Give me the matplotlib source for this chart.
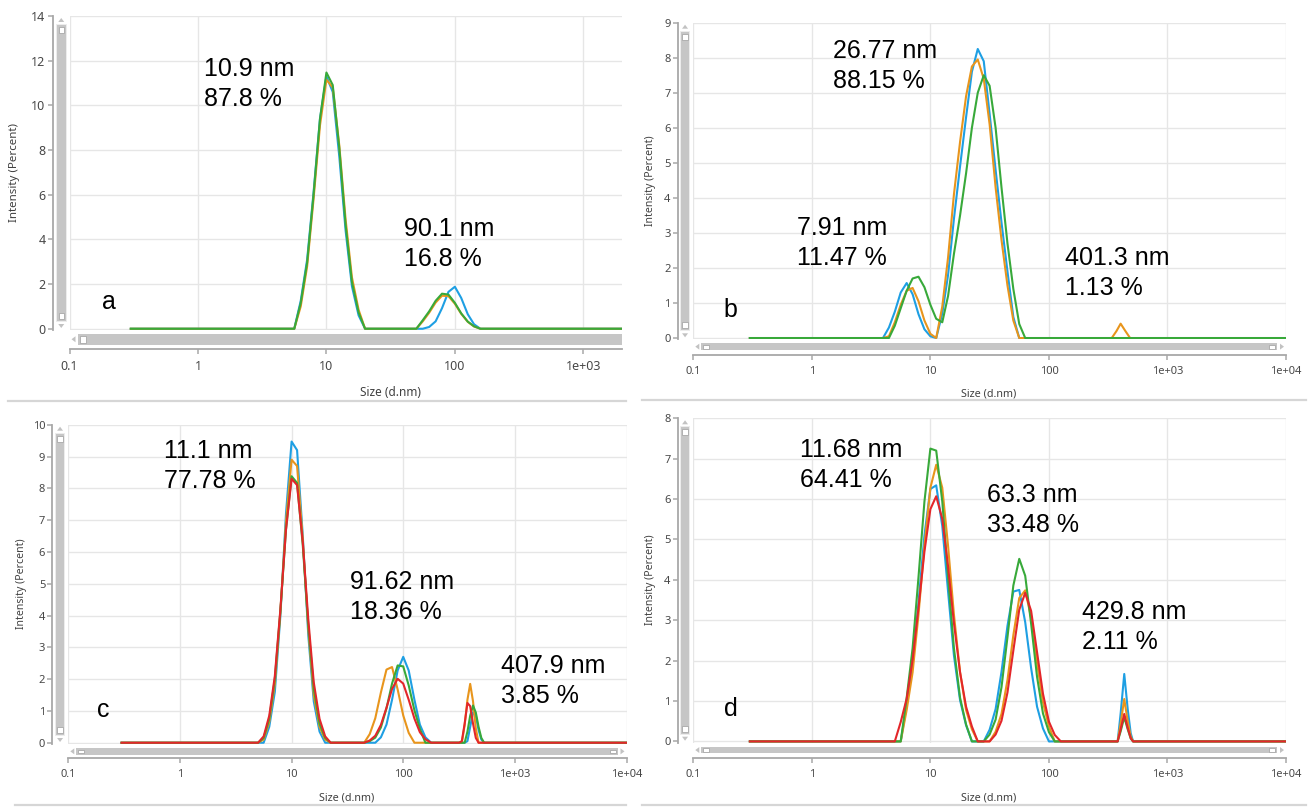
import matplotlib
matplotlib.use("Agg")
import matplotlib.pyplot as plt
from matplotlib.patches import Rectangle, Polygon
from matplotlib.transforms import offset_copy

plt.rcParams['font.family'] = ['Noto Sans', 'DejaVu Sans']

# ---- data (size in d.nm, intensity in %) ----
a_size = [0.3,
          5.62, 6.31, 7.08, 7.94, 8.91, 10.0, 11.2, 12.6, 14.1, 15.8, 17.8, 20.0,
          44.7, 50.1, 56.2, 63.1, 70.8, 79.4, 89.1, 100, 112, 126, 141, 158,
          10000]
a_blue = [0,
          0, 1.25, 3.1, 6.1, 9.4, 11.3, 10.6, 7.7, 4.4, 1.9, 0.6, 0,
          0, 0, 0, 0.08, 0.33, 0.92, 1.65, 1.88, 1.38, 0.65, 0.2, 0,
          0]
a_orange = [0,
            0, 1.0, 2.8, 5.8, 9.1, 11.15, 10.8, 8.2, 4.9, 2.3, 0.85, 0,
            0, 0, 0.33, 0.72, 1.17, 1.48, 1.46, 1.12, 0.67, 0.31, 0.1, 0,
            0]
a_green = [0,
           0, 1.15, 2.97, 5.99, 9.39, 11.47, 10.91, 8.08, 4.66, 2.09, 0.73, 0,
           0, 0, 0.38, 0.78, 1.25, 1.57, 1.53, 1.16, 0.69, 0.32, 0.11, 0,
           0]

b_size = [0.3,
          3.55, 3.98, 4.47, 5.01, 5.62, 6.31, 7.08, 7.94, 8.91, 10.0,
          11.2, 12.6, 14.1, 15.8, 17.8, 20.0, 22.4, 25.1, 28.2, 31.6, 35.5, 39.8, 44.7, 50.1, 56.2, 63.1, 70.8,
          338.8, 371.5, 402.7, 441.6, 484.2,
          10000]
b_blue = [0,
          0, 0, 0.3, 0.75, 1.3, 1.57, 1.25, 0.68, 0.25, 0.05,
          0, 0.7, 1.8, 3.4, 4.9, 6.3, 7.6, 8.25, 7.9, 6.4, 4.8, 3.3, 1.9, 0.6, 0, 0, 0,
          0, 0, 0, 0, 0,
          0]
b_orange = [0,
            0, 0, 0.05, 0.45, 0.95, 1.35, 1.43, 1.05, 0.5, 0.12,
            0, 0.9, 2.3, 4.1, 5.6, 6.9, 7.75, 7.95, 7.4, 6.1, 4.3, 2.8, 1.5, 0.5, 0, 0, 0,
            0, 0.2, 0.41, 0.2, 0,
            0]
b_green = [0,
           0, 0, 0, 0.35, 0.85, 1.35, 1.7, 1.75, 1.45, 0.95,
           0.55, 0.45, 1.2, 2.4, 3.5, 4.7, 6.0, 7.0, 7.5, 7.2, 6.0, 4.3, 2.7, 1.4, 0.4, 0, 0,
           0, 0, 0, 0, 0,
           0]

c_size = [0.3,
          5.01, 5.62, 6.31, 7.08, 7.94, 8.91, 10.0, 11.2, 12.6, 14.1, 15.8, 17.8, 20.0, 22.4, 25.1,
          39.8, 44.7, 50.1, 56.2, 63.1, 70.8, 79.4, 89.1, 100, 112, 126, 141, 158, 178,
          316, 335, 355, 376, 398, 422, 447, 473, 501, 531, 562,
          10000]
c_blue = [0,
          0, 0, 0.5, 1.6, 4.0, 7.2, 9.47, 9.2, 6.5, 3.4, 1.3, 0.35, 0, 0, 0,
          0, 0, 0, 0, 0.17, 0.57, 1.35, 2.27, 2.7, 2.27, 1.35, 0.57, 0.17, 0,
          0, 0, 0, 0.05, 0.5, 0.95, 0.85, 0.4, 0.1, 0, 0,
          0]
c_orange = [0,
            0, 0.1, 0.65, 1.85, 4.1, 6.95, 8.9, 8.7, 6.4, 3.6, 1.5, 0.5, 0.1, 0, 0,
            0, 0, 0.27, 0.77, 1.58, 2.3, 2.38, 1.68, 0.86, 0.31, 0, 0, 0, 0,
            0, 0, 0.55, 1.35, 1.85, 1.3, 0.45, 0, 0, 0, 0,
            0]
c_green = [0,
           0, 0.15, 0.75, 2.0, 4.15, 6.7, 8.38, 8.17, 6.2, 3.7, 1.7, 0.6, 0.15, 0, 0,
           0, 0, 0.05, 0.16, 0.48, 1.08, 1.86, 2.43, 2.4, 1.8, 1.02, 0.44, 0, 0,
           0, 0, 0, 0.35, 0.85, 1.17, 0.95, 0.5, 0.15, 0, 0,
           0]
c_red = [0,
         0, 0.2, 0.85, 2.1, 4.2, 6.7, 8.3, 8.1, 6.3, 3.9, 1.9, 0.75, 0.2, 0, 0,
         0, 0, 0.07, 0.22, 0.56, 1.1, 1.69, 2.01, 1.86, 1.35, 0.76, 0.33, 0.11, 0,
         0, 0.05, 0.6, 1.25, 1.15, 0.6, 0.15, 0, 0, 0, 0,
         0]

d_size = [0.3,
          5.01, 5.62, 6.31, 7.08, 7.94, 8.91, 10.0, 11.2, 12.6, 14.1, 15.8, 17.8, 20.0, 22.4, 25.1,
          28.2, 31.6, 35.5, 39.8, 44.7, 50.1, 56.2, 63.1, 70.8, 79.4, 89.1, 100, 112, 126,
          355, 380, 403, 432, 462, 490, 513, 550,
          10000]
d_blue = [0,
          0, 0, 0.89, 1.92, 3.44, 5.1, 6.25, 6.34, 5.33, 3.71, 2.13, 1.02, 0.4, 0, 0,
          0, 0.29, 0.8, 1.72, 2.86, 3.71, 3.75, 2.95, 1.81, 0.86, 0.32, 0, 0, 0,
          0, 0, 0.7, 1.67, 0.8, 0.2, 0, 0,
          0]
d_orange = [0,
            0, 0, 0.78, 1.71, 3.14, 4.84, 6.28, 6.85, 6.28, 4.84, 3.14, 1.71, 0.78, 0.3, 0,
            0, 0, 0.24, 0.68, 1.52, 2.63, 3.55, 3.74, 3.06, 1.95, 0.97, 0.37, 0, 0,
            0, 0, 0.45, 1.05, 0.5, 0.12, 0, 0,
            0]
d_green = [0,
           0, 0, 1.08, 2.31, 4.07, 5.94, 7.25, 7.2, 5.94, 4.07, 2.31, 1.08, 0.42, 0, 0,
           0, 0.17, 0.54, 1.34, 2.58, 3.86, 4.52, 4.1, 2.91, 1.6, 0.69, 0.23, 0, 0,
           0, 0, 0.25, 0.6, 0.3, 0.07, 0, 0,
           0]
d_red = [0,
         0, 0.48, 1.06, 2.02, 3.31, 4.7, 5.75, 6.07, 5.51, 4.33, 2.93, 1.71, 0.86, 0.37, 0,
         0, 0, 0.17, 0.51, 1.21, 2.25, 3.26, 3.68, 3.23, 2.21, 1.18, 0.49, 0.16, 0,
         0, 0, 0.3, 0.68, 0.33, 0.08, 0, 0,
         0]

x_ticks = [0.1, 1, 10, 100, 1000, 10000]
x_labels = ['0.1', '1', '10', '100', '1e+03', '1e+04']

# peak annotations: (line 1, line 2, x in nm, baseline of line 1 in %)
a_notes = [('10.9 nm', '87.8 %', 1.107, 11.32), ('90.1 nm', '16.8 %', 40.1, 4.16)]
b_notes = [('26.77 nm', '88.15 %', 1.52, 7.99), ('7.91 nm', '11.47 %', 0.75, 2.94),
           ('401.3 nm', '1.13 %', 137, 2.09)]
c_notes = [('11.1 nm', '77.78 %', 0.714, 8.95), ('91.62 nm', '18.36 %', 33.5, 4.82),
           ('407.9 nm', '3.85 %', 745, 2.19)]
d_notes = [('11.68 nm', '64.41 %', 0.795, 7.03), ('63.3 nm', '33.48 %', 30, 5.92),
           ('429.8 nm', '2.11 %', 190.6, 3.04)]

BLUE, ORANGE, GREEN, RED = '#1E9FE3', '#E8951C', '#38A93A', '#E3262A'

W, H = 1314, 808
fig = plt.figure(figsize=(W / 100, H / 100), dpi=100)


def box(x0, y0, x1, y1, **kw):
    fig.add_artist(Rectangle((x0 / W, 1 - y1 / H), (x1 - x0) / W, (y1 - y0) / H,
                             transform=fig.transFigure, **kw))


def tri(pts, color='#c2c2c2'):
    fig.add_artist(Polygon([(x / W, 1 - y / H) for x, y in pts], closed=True,
                           transform=fig.transFigure, fc=color, ec='none'))


def vbar(x0, x1, y0, y1):
    box(x0 - 1, y0 + 8, x1 + 1, y1 - 8, fc='#ececec', ec='none')
    box(x0, y0 + 9, x1, y1 - 9, fc='#c6c6c6', ec='none')
    box(x0 + 1.5, y0 + 11, x1 - 1.5, y0 + 17, fc='white', ec='#a8a8a8', lw=0.6)
    box(x0 + 1.5, y1 - 17, x1 - 1.5, y1 - 11, fc='white', ec='#a8a8a8', lw=0.6)
    cx = (x0 + x1) / 2
    tri([(cx - 3, y0 + 6), (cx + 3, y0 + 6), (cx, y0 + 2)])
    tri([(cx - 3, y1 - 6), (cx + 3, y1 - 6), (cx, y1 - 2)])


def hbar(x0, x1, y0, y1, right_end=True):
    box(x0 + 8, y0, x1 - 9 if right_end else x1, y1, fc='#c6c6c6', ec='none')
    box(x0 + 10, y0 + 1.5, x0 + 16, y1 - 1.5, fc='white', ec='#a8a8a8', lw=0.6)
    cy = (y0 + y1) / 2
    tri([(x0 + 6, cy - 3), (x0 + 6, cy + 3), (x0 + 2, cy)])
    if right_end:
        box(x1 - 17, y0 + 1.5, x1 - 11, y1 - 1.5, fc='white', ec='#a8a8a8', lw=0.6)
        tri([(x1 - 6, cy - 3), (x1 - 6, cy + 3), (x1 - 2, cy)])


def make_panel(geo, size, curves, xmax, ymax, ystep, notes, letter, letter_y, tick_fs,
               yoff, xoff, bar_h, ylab_xy, xlab_xy, lab_fs, right_end=True):
    left, top, right, bottom = geo
    ax = fig.add_axes([left / W, 1 - bottom / H, (right - left) / W, (bottom - top) / H])
    for vals, col in curves:
        ax.plot(size, vals, color=col, lw=1.5, zorder=3, solid_joinstyle='round')
    ax.set_xscale('log')
    ax.set_xlim(0.1, xmax)
    ax.set_ylim(-ymax * 0.004, ymax)
    ax.minorticks_off()
    n = sum(1 for t in x_ticks if t <= xmax)
    ax.set_xticks(x_ticks[:n])
    ax.set_xticklabels(x_labels[:n])
    ax.set_yticks(list(range(0, ymax + 1, ystep)))
    ax.grid(True, color='#e6e6e6', lw=1.0)
    ax.set_axisbelow(True)
    for s in ('top', 'right'):
        ax.spines[s].set_visible(False)
    ax.spines['left'].set_position(('outward', yoff))
    ax.spines['bottom'].set_position(('outward', xoff))
    for s in ('left', 'bottom'):
        ax.spines[s].set_color('#a8a8a8')
        ax.spines[s].set_linewidth(1.3)
    ax.tick_params(axis='both', direction='out', length=3.6, width=1.1, color='#a8a8a8',
                   labelcolor='#484848', labelsize=tick_fs)
    ax.tick_params(axis='y', pad=1.5)
    ax.tick_params(axis='x', pad=4)

    for l1, l2, x, y in notes:
        ax.text(x, y, l1, fontsize=18, family='Liberation Sans', va='baseline', ha='left')
        ax.text(x, y, l2, fontsize=18, family='Liberation Sans', va='baseline', ha='left',
                transform=offset_copy(ax.transData, fig=fig, x=0, y=-30, units='dots'))
    ax.text(0.18, letter_y, letter, fontsize=18, family='Liberation Sans', va='baseline')

    vbar(left - 12.5, left - 4, top, bottom)
    hbar(left, right, bottom + 4, bottom + 4 + bar_h, right_end)

    fig.text(ylab_xy[0] / W, 1 - ylab_xy[1] / H, 'Intensity (Percent)', rotation=90,
             ha='center', va='center', fontsize=lab_fs - 0.2, color='#404040')
    fig.text(xlab_xy[0] / W, 1 - xlab_xy[1] / H, 'Size (d.nm)', ha='center', va='center',
             fontsize=lab_fs, color='#404040')
    return ax


make_panel((69.5, 16, 622, 330), a_size,
           [(a_blue, BLUE), (a_orange, ORANGE), (a_green, GREEN)],
           2000, 14, 2, a_notes, 'a', 0.89, 9, 12.1, 13.9, 10.5, (15, 173), (390, 392), 8.5,
           right_end=False)
make_panel((693.3, 22.7, 1286, 339.3), b_size,
           [(b_blue, BLUE), (b_orange, ORANGE), (b_green, GREEN)],
           10000, 9, 1, b_notes, 'b', 0.6, 8, 11.2, 11.3, 6.7, (651, 181), (989, 394), 7.8)
make_panel((68.3, 424.7, 626.5, 744), c_size,
           [(c_blue, BLUE), (c_orange, ORANGE), (c_green, GREEN), (c_red, RED)],
           10000, 10, 1, c_notes, 'c', 0.8, 8, 11.5, 10.3, 6.7, (22, 584), (347, 798), 7.8)
make_panel((693.3, 418.3, 1286, 742.7), d_size,
           [(d_blue, BLUE), (d_orange, ORANGE), (d_green, GREEN), (d_red, RED)],
           10000, 8, 1, d_notes, 'd', 0.63, 8, 11.2, 11.2, 6.7, (651, 580), (989, 798), 7.8)

# grey separators under each panel
for x0, x1, y in [(8, 626, 401), (642, 1306, 400), (15, 626, 805), (642, 1306, 805)]:
    fig.add_artist(plt.Line2D([x0 / W, x1 / W], [1 - y / H, 1 - y / H],
                              transform=fig.transFigure, color='#d6d6d6', lw=1.6))

fig.savefig('out.png', dpi=100, facecolor='white')
